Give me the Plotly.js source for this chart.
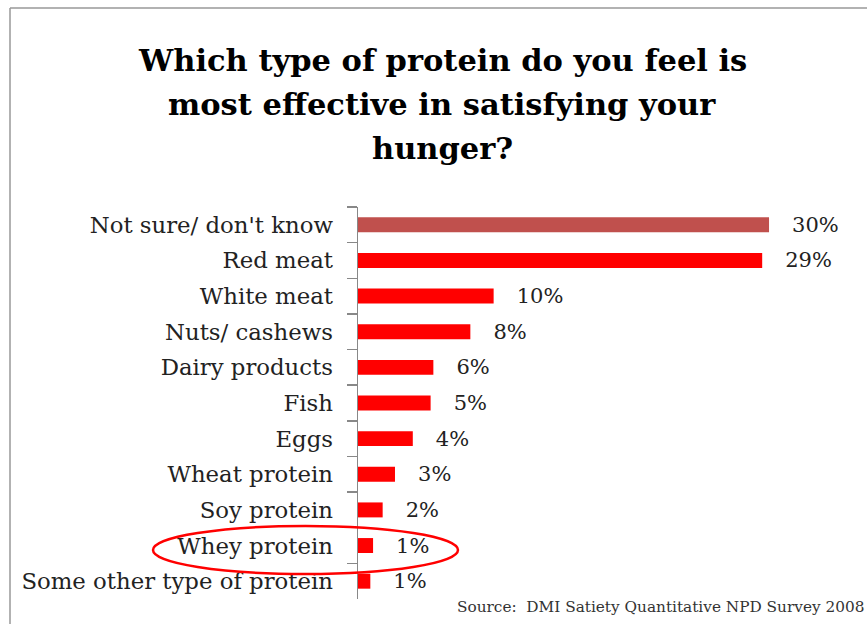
<!DOCTYPE html>
<html>
<head>
<meta charset="utf-8">
<script src="https://cdn.plot.ly/plotly-3.0.1.min.js"></script>
<style>html,body{margin:0;padding:0;background:#fff;}#chart{width:867px;height:624px;}</style>
</head>
<body>
<div id="chart"></div>
<script>
const categories = ["Not sure/ don't know","Red meat","White meat","Nuts/ cashews","Dairy products","Fish","Eggs","Wheat protein","Soy protein","Whey protein","Some other type of protein"];
const values = [30, 29.5, 9.9, 8.2, 5.5, 5.3, 4.0, 2.7, 1.8, 1.1, 0.9];
const valueLabels = ["30%","29%","10%","8%","6%","5%","4%","3%","2%","1%","1%"];
const barColors = ["#C0504D","#FF0000","#FF0000","#FF0000","#FF0000","#FF0000","#FF0000","#FF0000","#FF0000","#FF0000","#FF0000"];
const titleLines = ["Which type of protein do you feel is", "most effective in satisfying your", "hunger?"];
const sourceText = "Source:  DMI Satiety Quantitative NPD Survey 2008";

const W = 867, H = 624;
const L = 358, R = 0, T = 207, B = 25;
const pw = W - L - R, ph = H - T - B;
const px = x => (x - L) / pw;
const py = y => (H - B - y) / ph;

const serif = "DejaVu Serif, Liberation Serif, serif";

const trace = {
  type: 'bar',
  orientation: 'h',
  x: values,
  y: categories,
  marker: {color: barColors},
  text: valueLabels.map(t => '\u00a0\u00a0\u00a0' + t),
  textposition: 'outside',
  constraintext: 'none',
  textfont: {family: serif, size: 21, color: '#222'},
  cliponaxis: false,
  hoverinfo: 'none'
};

const titleY = [60, 104, 148];
const annotations = titleLines.map((t, i) => ({
  text: t, xref: 'paper', yref: 'paper', x: px(442), y: py(titleY[i]),
  xanchor: 'center', yanchor: 'middle', showarrow: false,
  font: {family: serif, size: 30.5, color: '#000', weight: 'bold'}
}));
annotations.push({text: sourceText, xref: 'paper', yref: 'paper', x: px(866), y: py(607), xanchor: 'right', yanchor: 'middle', showarrow: false,
  font: {family: serif, size: 15.3, color: '#333'}});

const layout = {
  width: W, height: H,
  margin: {l: L, r: R, t: T, b: B, pad: 0},
  paper_bgcolor: '#fff',
  plot_bgcolor: '#fff',
  showlegend: false,
  bargap: 0.58,
  xaxis: {
    range: [0, 37.15],
    showgrid: false, zeroline: false, showline: false,
    showticklabels: false, ticks: ''
  },
  yaxis: {
    autorange: 'reversed',
    type: 'category',
    showgrid: false, zeroline: false,
    showline: true, linecolor: '#888', linewidth: 1.5,
    ticks: 'outside', ticklen: 10, tickcolor: '#888', tickwidth: 1.5,
    tickson: 'boundaries',
    ticklabelstandoff: 19,
    tickfont: {family: serif, size: 22.8, color: '#222'}
  },
  shapes: [
    {type: 'line', xref: 'paper', yref: 'paper', x0: px(10), x1: px(10), y0: py(8), y1: py(H + 5), line: {color: '#999', width: 1.5}},
    {type: 'line', xref: 'paper', yref: 'paper', x0: px(10), x1: px(W + 5), y0: py(8), y1: py(8), line: {color: '#999', width: 1.5}},
    {type: 'circle', xref: 'paper', yref: 'paper', x0: px(153), x1: px(458), y0: py(574), y1: py(526), line: {color: '#FF0000', width: 2.5}}
  ],
  annotations: annotations
};

Plotly.newPlot('chart', [trace], layout, {displayModeBar: false, staticPlot: true});
</script>
</body>
</html>
